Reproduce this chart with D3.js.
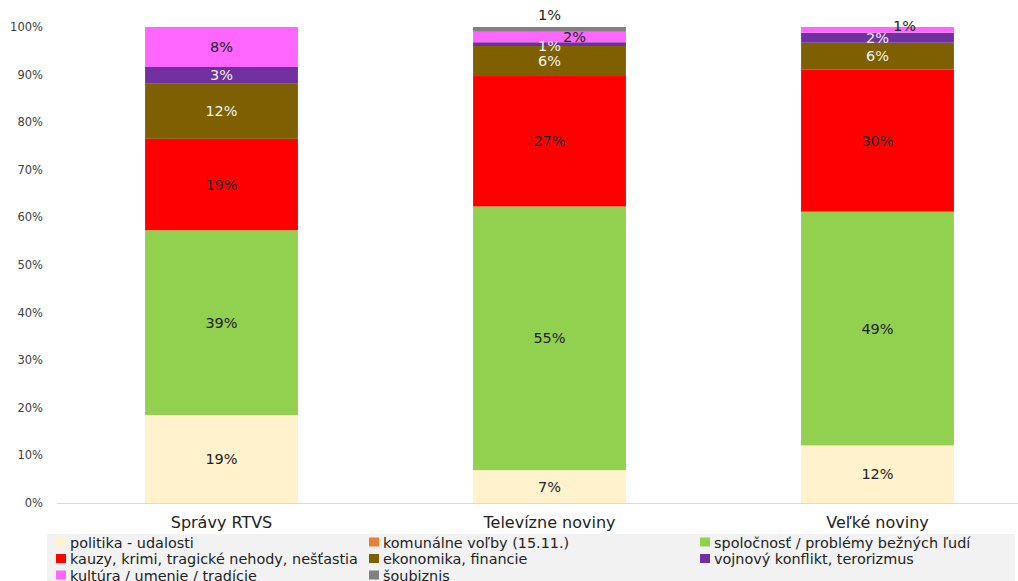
<!DOCTYPE html>
<html>
<head>
<meta charset="utf-8">
<script src="https://cdn.jsdelivr.net/npm/d3@7.9.0/dist/d3.min.js"></script>
<style>
  body { margin: 0; background: #fff; }
  svg { display: block; font-family: "DejaVu Sans", Verdana, sans-serif; }
</style>
</head>
<body>
<svg width="1018" height="581"></svg>
<script>
// categories (x axis)
const categories = ['Správy RTVS', 'Televízne noviny', 'Veľké noviny'];

// series names, bottom to top
const seriesNames = [
  'politika - udalosti',
  'komunálne voľby (15.11.)',
  'spoločnosť / problémy bežných ľudí',
  'kauzy, krimi, tragické nehody, nešťastia',
  'ekonomika, financie',
  'vojnový konflikt, terorizmus',
  'kultúra / umenie / tradície',
  'šoubiznis'
];

// shares in % per series, one value per category
const politika   = [18.5, 6.9, 12.1];
const komunalne  = [0, 0, 0];
const spolocnost = [38.8, 55.4, 49.1];
const kauzy      = [19.2, 27.4, 29.9];
const ekonomika  = [11.7, 6.3, 5.6];
const vojnovy    = [3.4, 0.8, 2.1];
const kultura    = [8.4, 2.2, 1.2];
const soubiznis  = [0, 1.0, 0];

const seriesValues = [politika, komunalne, spolocnost, kauzy, ekonomika, vojnovy, kultura, soubiznis];
const seriesColors = ['#FFF2CC', '#ED7D31', '#92D050', '#FF0000', '#7F6000', '#7030A0', '#FF66FF', '#808080'];
const lightText = [false, false, false, false, true, true, false, false];

const yTicks = [0, 10, 20, 30, 40, 50, 60, 70, 80, 90, 100];

const svg = d3.select('svg');

const x = d3.scaleBand().domain(categories).range([57.5, 1041.5]).paddingInner(0.534).paddingOuter(0.267);
const y = d3.scaleLinear().domain([0, 100]).range([503, 27]);

// build stacked table
const table = categories.map((c, i) => {
  const row = { cat: c };
  seriesNames.forEach((s, j) => { row[s] = seriesValues[j][i]; });
  return row;
});
const stacked = d3.stack().keys(seriesNames)(table);

// y axis labels
svg.append('g').selectAll('text')
  .data(yTicks)
  .join('text')
  .attr('x', 43)
  .attr('y', d => y(d) + 4)
  .attr('text-anchor', 'end')
  .attr('font-size', 11.5)
  .attr('fill', '#404040')
  .text(d => d + '%');

// baseline
svg.append('line')
  .attr('x1', 57).attr('x2', 1018)
  .attr('y1', y(0) + 0.5).attr('y2', y(0) + 0.5)
  .attr('stroke', '#d9d9d9');

// bars
stacked.forEach((layer, j) => {
  svg.append('g').selectAll('rect')
    .data(layer)
    .join('rect')
    .attr('x', d => x(d.data.cat))
    .attr('width', x.bandwidth())
    .attr('y', d => y(d[1]))
    .attr('height', d => y(d[0]) - y(d[1]))
    .attr('fill', seriesColors[j]);
});

// nudges for crowded small labels [category index, series index] -> [dx, dy]
const nudges = {
  '1,5': [0, 2],
  '1,6': [25, 0],
  '1,7': [0, -14],
  '2,6': [27, -4]
};

stacked.forEach((layer, j) => {
  layer.forEach((d, i) => {
    const v = d[1] - d[0];
    if (v <= 0) return;
    const n = nudges[i + ',' + j] || [0, 0];
    svg.append('text')
      .attr('x', x(d.data.cat) + x.bandwidth() / 2 + n[0])
      .attr('y', (y(d[0]) + y(d[1])) / 2 + 5 + n[1])
      .attr('text-anchor', 'middle')
      .attr('font-size', 14.5)
      .attr('fill', lightText[j] ? '#f2f2f2' : '#222')
      .text(Math.round(v) + '%');
  });
});

// category labels
svg.append('g').selectAll('text')
  .data(categories)
  .join('text')
  .attr('x', d => x(d) + x.bandwidth() / 2)
  .attr('y', 528)
  .attr('text-anchor', 'middle')
  .attr('font-size', 16)
  .attr('fill', '#222')
  .text(d => d);

// legend
svg.append('rect')
  .attr('x', 47).attr('y', 534)
  .attr('width', 968).attr('height', 47)
  .attr('fill', '#f2f2f2');

const legendCols = [56, 369, 700];
const legend = svg.append('g').selectAll('g')
  .data(seriesNames)
  .join('g')
  .attr('transform', (d, k) => `translate(${legendCols[k % 3]},${542.5 + Math.floor(k / 3) * 16.5})`);

legend.append('rect')
  .attr('x', 0).attr('y', -5)
  .attr('width', 10).attr('height', 9)
  .attr('fill', (d, k) => seriesColors[k]);

legend.append('text')
  .attr('x', 14)
  .attr('y', 5)
  .attr('font-size', 14.4)
  .attr('fill', '#222')
  .text(d => d);
</script>
</body>
</html>
